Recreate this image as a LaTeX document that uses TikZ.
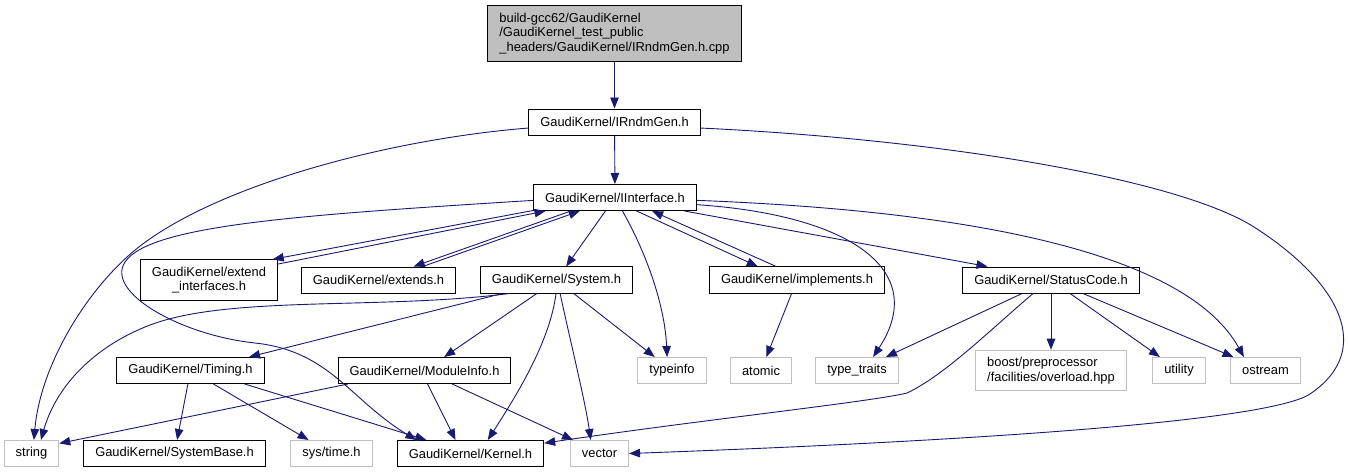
\documentclass[tikz,border=0pt]{standalone}
\usepackage{fontspec}
\newfontfamily\dotfont{Liberation Sans}
\usepackage{xcolor}
\usepackage{tikz}
\usetikzlibrary{arrows.meta}
\pgfdeclarelayer{nodelayer}
\pgfdeclarelayer{edgelayer}
\pgfsetlayers{nodelayer,edgelayer,main}
\definecolor{edgeblue}{HTML}{191970}
\definecolor{srcgray}{HTML}{BFBFBF}
\tikzset{
  hdr/.style={draw=black, fill=white, line width=1pt, inner xsep=11.5pt, inner ysep=7pt,
    minimum height=26pt, font=\dotfont\fontsize{12.9}{14.5}\selectfont},
  syshdr/.style={hdr, draw=srcgray},
  srcfile/.style={hdr, fill=srcgray, align=left},
  dep/.style={draw=edgeblue, line width=0.9pt, -{Triangle[length=11pt,width=8.5pt]}}
}

\begin{document}
\begin{tikzpicture}[x=1pt, y=-1pt]
  \useasboundingbox (0, 0) rectangle (1349, 472);
  \begin{pgfonlayer}{nodelayer}
    \node [srcfile] (0) at (614.5, 33.5) {build-gcc62/GaudiKernel\\/GaudiKernel\_test\_public\\\_headers/GaudiKernel/IRndmGen.h.cpp};
    \node [hdr] (1) at (614.5, 122) {GaudiKernel/IRndmGen.h};
    \node [hdr] (2) at (615, 197.5) {GaudiKernel/IInterface.h};
    \node [hdr, align=center] (3) at (209, 280) {GaudiKernel/extend\\\_interfaces.h};
    \node [hdr] (4) at (378.5, 280) {GaudiKernel/extends.h};
    \node [hdr] (5) at (556.5, 280) {GaudiKernel/System.h};
    \node [hdr] (6) at (797, 280) {GaudiKernel/implements.h};
    \node [hdr] (7) at (1051, 280) {GaudiKernel/StatusCode.h};
    \node [hdr] (8) at (190.5, 370.5) {GaudiKernel/Timing.h};
    \node [hdr] (9) at (424.5, 370.5) {GaudiKernel/ModuleInfo.h};
    \node [syshdr] (10) at (672, 370.5) {typeinfo};
    \node [syshdr] (11) at (761, 370.5) {atomic};
    \node [syshdr] (12) at (857, 370.5) {type\_traits};
    \node [syshdr, align=left] (13) at (1051, 370.5) {boost/preprocessor\\/facilities/overload.hpp};
    \node [syshdr] (14) at (1179, 370.5) {utility};
    \node [syshdr] (15) at (1265.5, 370.5) {ostream};
    \node [syshdr] (16) at (31.5, 453.5) {string};
    \node [hdr] (17) at (174.5, 453.5) {GaudiKernel/SystemBase.h};
    \node [syshdr] (18) at (331.5, 453.5) {sys/time.h};
    \node [hdr] (19) at (470.5, 453.5) {GaudiKernel/Kernel.h};
    \node [syshdr] (20) at (599.5, 453.5) {vector};
  \end{pgfonlayer}
  \begin{pgfonlayer}{edgelayer}
    \draw [dep] (0) to (1);
    \draw [dep] (1) to (2);
    \draw [dep] (1.184) .. controls (380, 140) and (200, 190) .. (127, 257) .. controls (80, 300) and (40, 370) .. (16.80);
    \draw [dep] (1.356) .. controls (950, 140) and (1180, 180) .. (1254, 227) .. controls (1340, 282) and (1375, 350) .. (1310, 394) .. controls (1270, 420) and (1000, 440) .. (20.east);
    \draw [dep] (2.189) to (3.18);
    \draw [dep] (3.13) to (2.191);
    \draw [dep] (2.197) to (4.21);
    \draw [dep] (4.17) to (2.201);
    \draw [dep] (2) to (5);
    \draw [dep] (2.328) to (6.161);
    \draw [dep] (6.147) to (2.340);
    \draw [dep] (2.349) to (7.168);
    \draw [dep] (2.299) .. controls (650, 260) and (665, 310) .. (10.110);
    \draw [dep] (2.355) .. controls (850, 215) and (930, 270) .. (12.40);
    \draw [dep] (2.358) .. controls (1000, 212) and (1190, 260) .. (15.148);
    \draw [dep] (2.182) .. controls (300, 215) and (150, 225) .. (125, 262) .. controls (105, 292) and (180, 335) .. (255, 343) .. controls (330, 351) and (350, 400) .. (19.166);
    \draw [dep] (5.196) .. controls (380, 310) and (230, 295) .. (150, 325) .. controls (90, 348) and (55, 390) .. (16.55);
    \draw [dep] (5.194) to (8.13);
    \draw [dep] (5) to (9);
    \draw [dep] (5) to (10);
    \draw [dep] (5.268) .. controls (550, 340) and (520, 390) .. (19.38);
    \draw [dep] (5.285) .. controls (570, 340) and (585, 400) .. (20.123);
    \draw [dep] (6) to (11);
    \draw [dep] (7) to (13);
    \draw [dep] (7) to (14);
    \draw [dep] (7) to (15);
    \draw [dep] (7) to (12);
    \draw [dep] (7.217) .. controls (990, 330) and (945, 375) .. (907, 393) .. controls (870, 402) and (700, 420) .. (19.8);
    \draw [dep] (8) to (17);
    \draw [dep] (8) to (18);
    \draw [dep] (8.346) to (19.163);
    \draw [dep] (9.190) to (16.20);
    \draw [dep] (9.283) to (19.138);
    \draw [dep] (9.334) to (20.153);
  \end{pgfonlayer}
\end{tikzpicture}
\end{document}
